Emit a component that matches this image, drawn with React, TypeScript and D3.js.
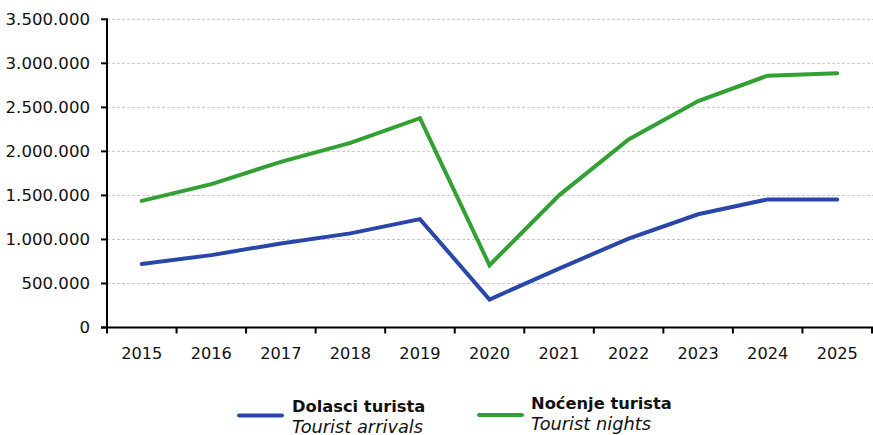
import React from "react";
import * as d3 from "d3";

const years = ["2015", "2016", "2017", "2018", "2019", "2020", "2021", "2022", "2023", "2024", "2025"];
const arrivals = [720000, 822000, 955000, 1069000, 1231000, 318000, 669000, 1010000, 1286000, 1455000, 1455000];
const nights = [1438000, 1628000, 1881000, 2097000, 2377000, 707000, 1501000, 2136000, 2571000, 2860000, 2887000];
const yTicks = [0, 500000, 1000000, 1500000, 2000000, 2500000, 3000000, 3500000];

const W = 873;
const H = 435;
const margin = { left: 107, right: 1, top: 19.3, bottom: 107.5 };
const font = "'DejaVu Sans', sans-serif";
const BLUE = "#2a46a9";
const GREEN = "#33a034";

const fmt = (v: number) =>
  v === 0 ? "0" : d3.format(",")(v).replace(/,/g, ".");

export default function App() {
  const x = d3
    .scaleBand<string>()
    .domain(years)
    .range([margin.left, W - margin.right])
    .paddingInner(0)
    .paddingOuter(0);
  const y = d3
    .scaleLinear()
    .domain([0, 3500000])
    .range([H - margin.bottom, margin.top]);

  const cx = (d: string) => (x(d) as number) + x.bandwidth() / 2;
  const line = d3
    .line<number>()
    .x((_, i) => cx(years[i]))
    .y((v) => y(v));

  const x0 = margin.left;
  const y0 = y(0);

  return (
    <svg
      width={W}
      height={H}
      style={{ position: "absolute", left: 0, top: 0, background: "#fff" }}
      fontFamily={font}
    >
      {/* horizontal grid */}
      {yTicks.slice(1).map((t) => (
        <line
          key={"g" + t}
          x1={x0}
          x2={W}
          y1={y(t)}
          y2={y(t)}
          stroke="#c6c6c6"
          strokeWidth={1}
          strokeDasharray="3,2"
        />
      ))}

      {/* series */}
      <path d={line(arrivals) || ""} fill="none" stroke={BLUE} strokeWidth={4} strokeLinejoin="miter" strokeLinecap="round" />
      <path d={line(nights) || ""} fill="none" stroke={GREEN} strokeWidth={4} strokeLinejoin="miter" strokeLinecap="round" />

      {/* y axis */}
      <line x1={x0} x2={x0} y1={y(3500000) - 1} y2={y0 + 6} stroke="#000" strokeWidth={2} />
      {yTicks.map((t) => (
        <g key={"y" + t}>
          <line x1={x0 - 6} x2={x0} y1={y(t)} y2={y(t)} stroke="#000" strokeWidth={2} />
          <text
            x={90}
            y={y(t)}
            dy="0.36em"
            textAnchor="end"
            fontSize={16.6}
            fill="#111"
          >
            {fmt(t)}
          </text>
        </g>
      ))}

      {/* x axis */}
      <line x1={x0 - 6} x2={W} y1={y0} y2={y0} stroke="#000" strokeWidth={2} />
      {years.map((yr) => (
        <g key={yr}>
          <line
            x1={(x(yr) as number) + x.bandwidth()}
            x2={(x(yr) as number) + x.bandwidth()}
            y1={y0}
            y2={y0 + 6}
            stroke="#000"
            strokeWidth={2}
          />
          <text x={cx(yr)} y={y0 + 31} textAnchor="middle" fontSize={16.2} fill="#111">
            {yr}
          </text>
        </g>
      ))}

      {/* legend */}
      <line x1={239} x2={282} y1={415.5} y2={415.5} stroke={BLUE} strokeWidth={4} strokeLinecap="round" />
      <text x={292} y={411.5} fontSize={16.3} fontWeight="bold" fill="#111">Dolasci turista</text>
      <text x={292} y={432.5} fontSize={17.8} fontStyle="italic" fill="#111">Tourist arrivals</text>

      <line x1={479} x2={522} y1={415} y2={415} stroke={GREEN} strokeWidth={4} strokeLinecap="round" />
      <text x={531} y={408.5} fontSize={16.3} fontWeight="bold" fill="#111">Noćenje turista</text>
      <text x={531} y={430} fontSize={17.8} fontStyle="italic" fill="#111">Tourist nights</text>
    </svg>
  );
}
